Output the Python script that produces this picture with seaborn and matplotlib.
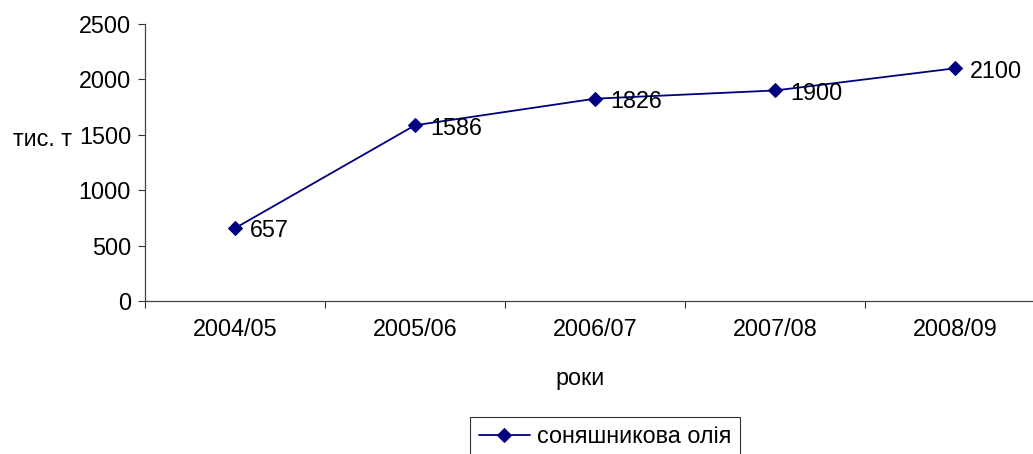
import matplotlib
matplotlib.use("Agg")
import matplotlib.pyplot as plt
import seaborn as sns
import pandas as pd

# data
years = ["2004/05", "2005/06", "2006/07", "2007/08", "2008/09"]
values = [657, 1586, 1826, 1900, 2100]
series_name = "соняшникова олія"

df = pd.DataFrame({"year": years, "value": values, "x": range(len(years))})

sns.set_style("white")
plt.rcParams["font.family"] = ["Liberation Sans", "DejaVu Sans"]
plt.rcParams["text.color"] = "black"
plt.rcParams["xtick.color"] = "black"
plt.rcParams["ytick.color"] = "black"
fs = 16.8

fig = plt.figure(figsize=(10.33, 4.54), dpi=100)
ax = fig.add_axes([145 / 1033, 153 / 454, 900 / 1033, 277 / 454])

sns.lineplot(data=df, x="x", y="value", ax=ax, color="#000080", marker="D",
             markersize=7, markeredgecolor="#000080", linewidth=1.3,
             label=series_name)

for xi, v in zip(df["x"], df["value"]):
    ax.annotate(str(v), (xi, v), xytext=(11, -2), textcoords="offset points",
                ha="left", va="center", fontsize=fs)

ax.set_xlim(-0.5, len(years) - 0.5)
ax.set_ylim(0, 2500)
ax.set_yticks(range(0, 2501, 500))
ax.set_xticks([i - 0.5 for i in range(len(years) + 1)])
ax.set_xticklabels([])
ax.set_xticks(range(len(years)), minor=True)
ax.set_xticklabels(years, minor=True, fontsize=fs)
ax.tick_params(axis="x", which="minor", bottom=False, length=0, pad=12)
ax.tick_params(axis="x", which="major", bottom=True, direction="out", length=5, width=0.8, color="#333333")
ax.tick_params(axis="y", left=True, direction="out", length=5, width=0.8, color="#333333", labelsize=fs, pad=5)

for s in ["top", "right"]:
    ax.spines[s].set_visible(False)
for s in ["left", "bottom"]:
    ax.spines[s].set_color("#444444")
    ax.spines[s].set_linewidth(0.9)

ax.set_xlabel("")
ax.set_ylabel("")
fig.text(42 / 1033, 1 - 140 / 454, "тис. т", ha="center", va="center", fontsize=fs)
fig.text(580 / 1033, 1 - 379 / 454, "роки", ha="center", va="center", fontsize=fs)

leg = ax.legend(loc="upper center", bbox_to_anchor=(605 / 1033, 1 - 417 / 454),
                bbox_transform=fig.transFigure, frameon=True, fancybox=False,
                fontsize=fs, handlelength=2.2, borderpad=0.35, handletextpad=0.3,
                borderaxespad=0)
leg.get_frame().set_edgecolor("black")
leg.get_frame().set_linewidth(0.8)

fig.savefig("out.png", dpi=100)
